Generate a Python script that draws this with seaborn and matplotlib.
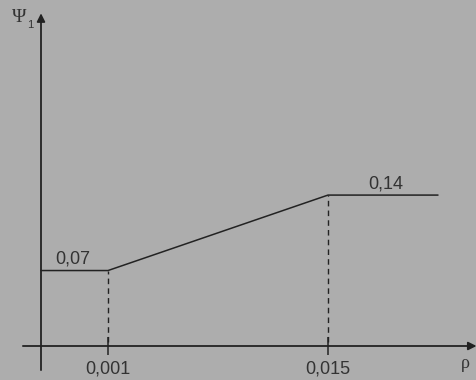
import numpy as np
import seaborn as sns
import matplotlib.pyplot as plt

# schematic data: rho breakpoints and psi_1 plateau values
rho = [0.0, 0.001, 0.015, 0.022]
psi = [0.07, 0.07, 0.14, 0.14]
rho_ticks = [0.001, 0.015]
rho_tick_labels = ["0,001", "0,015"]
psi_labels = ["0,07", "0,14"]

BG = "#adadad"
INK = "#222222"
TXT = "#333333"

sns.set_theme(style="white")
plt.rcParams["font.family"] = ["Liberation Sans", "DejaVu Sans"]

# x axis is not to scale in the original: piecewise linear mapping
knots_x = [-1.0, 0.0, 0.001, 0.015, 1.0]
knots_px = [-67000.0, 0.0, 67.0, 287.0, 287.0 + 0.985 * 15714.0]

def fwd(x):
    return np.interp(x, knots_x, knots_px)

def inv(p):
    return np.interp(p, knots_px, knots_x)

fig = plt.figure(figsize=(4.77, 3.80), dpi=100, facecolor=BG)
ax = fig.add_axes([0, 0, 1, 1])
ax.set_facecolor(BG)
ax.set_xscale("function", functions=(fwd, inv))

sns.lineplot(x=rho, y=psi, ax=ax, color=INK, lw=1.1, sort=False, estimator=None)

# dashed drop lines
for r, p in [(rho[1], psi[1]), (rho[2], psi[2])]:
    ax.plot([r, r], [0.004, p], ls=(0, (4, 3)), color=INK, lw=1.0)

ax.set_xlim(inv(-41), inv(477 - 41))
ax.set_ylim(-34 / 1078, 346 / 1078)

for s in ax.spines.values():
    s.set_visible(False)
ax.spines["bottom"].set_position(("data", 0))
ax.set_xticks(rho_ticks)
ax.set_xticklabels(rho_tick_labels, fontsize=13, color=TXT)
ax.tick_params(axis="x", direction="inout", length=13, width=1.1, color=INK, pad=4, bottom=True)
ax.set_yticks([])
ax.grid(False)

# axes with arrows
arrow = dict(arrowstyle="-|>", color=INK, lw=1.3, mutation_scale=12, shrinkA=0, shrinkB=0)
ax.annotate("", xy=(0.999, 0), xytext=(0.048, 0),
            xycoords=("axes fraction", "data"), textcoords=("axes fraction", "data"),
            arrowprops=arrow)
ax.annotate("", xy=(0, 0.965), xytext=(0, 0.026),
            xycoords=("data", "axes fraction"), textcoords=("data", "axes fraction"),
            arrowprops=arrow)

# value labels above the plateaus
ax.annotate(psi_labels[0], xy=(rho[0], psi[0]), xytext=(14, 3), textcoords="offset pixels",
            ha="left", va="bottom", fontsize=13, color=TXT)
ax.annotate(psi_labels[1], xy=(rho[2], psi[2]), xytext=(40, 3), textcoords="offset pixels",
            ha="left", va="bottom", fontsize=13, color=TXT)

# axis names
fig.text(19 / 477, 1 - 17 / 380, "\u03a8", fontsize=14, color=TXT, ha="center", va="center",
         family=["Liberation Serif", "DejaVu Serif"])
fig.text(30 / 477, 1 - 25 / 380, "1", fontsize=8, color=TXT, ha="center", va="center")
fig.text(465 / 477, 1 - 363 / 380, "\u03c1", fontsize=13, color=TXT, ha="center", va="center",
         family=["Liberation Serif", "DejaVu Serif"])

fig.savefig("out.png", dpi=100, facecolor=BG)
